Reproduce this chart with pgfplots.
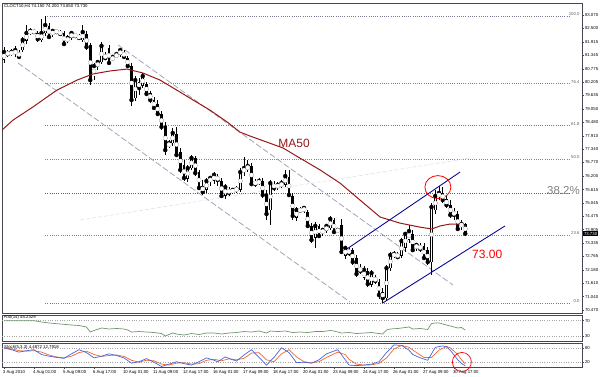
\documentclass[border=0pt]{standalone}
\usepackage{pgfplots}
\pgfplotsset{compat=1.18}
\usepackage{pgfplotstable}
\usepackage{fontspec}
\setmainfont{Liberation Sans}
\definecolor{mared}{RGB}{150,24,24}
\definecolor{chan}{RGB}{10,10,150}
\definecolor{dashc}{RGB}{160,165,185}
\definecolor{faint}{RGB}{215,228,238}
\definecolor{fib}{RGB}{120,120,145}
\definecolor{rsig}{RGB}{110,150,110}
\definecolor{stk}{RGB}{70,100,220}
\definecolor{std}{RGB}{240,100,50}
\definecolor{frm}{RGB}{70,70,80}

\pgfplotstableread{
i o h l c
0 81.15 81.70 81.02 81.49
1 81.45 81.57 81.28 81.40
2 81.40 81.62 81.32 81.49
3 81.40 81.75 81.28 81.57
4 81.49 81.57 81.19 81.28
5 81.57 82.13 81.49 82.00
6 81.96 82.64 81.83 82.30
7 82.30 82.51 82.22 82.39
8 82.39 82.47 82.26 82.34
9 82.30 82.39 81.92 82.04
10 82.00 82.90 81.92 82.30
11 82.30 83.03 82.17 82.64
12 82.60 82.73 82.04 82.13
13 82.22 82.47 82.13 82.39
14 82.39 82.47 82.26 82.34
15 82.34 82.43 82.17 82.26
16 82.30 82.39 81.75 81.83
17 81.96 82.22 81.87 82.09
18 82.09 82.39 82.00 82.30
19 82.22 82.30 82.09 82.17
20 82.17 82.26 82.00 82.09
21 82.00 82.64 81.92 82.34
22 82.26 82.39 81.57 81.70
23 81.79 81.87 80.08 80.29
24 80.46 81.02 80.29 80.89
25 80.85 81.15 80.72 81.06
26 81.06 81.92 80.98 81.75
27 81.36 81.49 81.15 81.23
28 81.66 81.79 80.93 81.02
29 81.15 81.36 81.11 81.28
30 81.28 81.49 81.23 81.40
31 81.36 81.66 81.28 81.57
32 81.49 81.57 81.23 81.28
33 81.23 81.32 80.81 80.89
34 80.89 81.02 79.18 79.44
35 79.52 80.46 79.40 80.29
36 80.21 80.38 79.65 79.95
37 80.04 80.59 79.95 80.46
38 80.12 80.21 79.61 79.70
39 79.74 79.82 79.31 79.44
40 79.44 79.57 79.01 79.10
41 79.27 79.44 78.76 78.84
42 78.84 78.97 78.16 78.29
43 78.33 78.50 77.09 77.30
44 77.47 77.73 77.39 77.60
45 77.60 78.24 77.47 78.03
46 77.99 78.29 77.00 77.09
47 77.22 77.39 76.32 76.45
48 76.66 76.88 75.98 76.11
49 76.07 76.66 75.94 76.53
50 76.53 77.09 76.45 76.96
51 76.96 77.05 76.19 76.32
52 76.36 76.45 75.60 75.68
53 75.77 76.02 75.38 75.51
54 75.60 76.11 75.47 75.98
55 75.94 76.19 75.77 76.11
56 75.98 76.36 75.85 76.24
57 76.15 76.28 75.77 76.02
58 75.98 76.11 75.25 75.34
59 75.34 75.85 75.21 75.72
60 75.60 75.72 75.34 75.47
61 75.51 75.68 75.42 75.60
62 75.60 75.77 75.47 75.64
63 75.60 76.53 75.51 76.36
64 76.36 77.00 76.19 76.53
65 76.49 76.88 76.36 76.62
66 76.62 76.75 75.77 75.85
67 75.94 76.07 75.72 75.85
68 75.89 76.11 75.81 75.98
69 75.98 76.11 75.25 75.38
70 75.42 75.60 74.31 74.57
71 74.74 76.02 74.10 75.89
72 75.85 75.98 75.55 75.68
73 75.72 75.94 75.60 75.81
74 75.77 76.02 75.68 75.89
75 75.81 76.45 75.72 76.19
76 76.15 76.45 75.30 75.38
77 75.34 75.47 74.31 74.49
78 74.40 74.87 74.27 74.74
79 74.74 74.87 74.61 74.72
80 74.70 74.91 74.61 74.83
81 74.66 74.74 73.97 74.06
82 74.06 74.19 73.33 73.46
83 73.55 74.23 73.12 74.06
84 74.06 74.14 73.55 73.63
85 73.76 73.97 73.63 73.89
86 73.84 74.14 73.76 74.06
87 73.97 74.49 73.89 74.36
88 74.31 74.40 73.72 73.80
89 73.84 73.97 73.76 73.89
90 74.10 74.36 72.86 72.95
91 72.78 73.20 72.65 73.12
92 73.03 73.16 72.78 72.90
93 73.03 73.12 72.39 72.52
94 72.69 72.82 71.88 72.01
95 72.26 72.43 72.01 72.14
96 71.84 72.35 71.75 72.18
97 72.14 72.26 71.45 71.58
98 71.54 72.18 71.45 72.05
99 71.84 71.96 71.58 71.71
100 71.67 71.79 70.94 71.11
101 71.24 71.41 70.77 70.98
102 70.98 72.39 70.86 72.26
103 72.26 72.95 72.14 72.82
104 72.78 72.99 72.69 72.86
105 72.86 72.95 72.65 72.73
106 72.78 73.55 72.69 73.42
107 73.12 73.80 72.95 73.72
108 73.46 74.10 73.33 73.84
109 73.72 73.89 72.95 73.03
110 73.12 73.33 72.99 73.25
111 73.20 73.33 72.95 73.08
112 73.20 73.33 72.61 72.69
113 73.03 73.16 72.39 72.52
114 72.52 75.04 71.96 74.87
115 74.74 75.60 74.57 75.34
116 75.30 75.77 75.17 75.47
117 75.47 75.72 75.04 75.17
118 75.21 75.34 74.83 74.95
119 74.95 75.17 74.40 74.53
120 74.66 74.83 74.31 74.53
121 74.57 74.70 73.84 73.93
122 74.06 74.31 73.89 74.14
123 74.15 74.20 73.65 73.73
}\candles

\pgfplotstableread{
i v
0 70
3 70
6 69.7
8 70
10 66.5
12 64
15 61.3
18 58.7
20 57.4
22 53.5
23 40.4
24 44.4
26 50.9
28 48.3
30 49.6
32 48.3
33 45.7
34 40.4
36 41.7
38 40.4
40 39.1
42 36.5
43 30
45 37.8
46 35.2
48 32.6
50 36.5
52 33.9
54 37.8
56 37.8
58 35.2
60 37.8
62 39.1
64 41.7
66 40.4
68 43
70 37.8
71 43
73 41.7
75 43
77 39.1
79 40.4
81 39.1
83 41.7
85 41.7
87 44.4
88 43
90 37.8
92 39.1
94 36.5
96 37.8
98 39.1
100 36.5
101 35.2
102 45.7
103 48.3
105 49.6
107 52.2
108 53.5
109 48.3
111 49.6
113 47
114 62.6
115 64
116 64
117 61.3
119 56.1
121 50.9
122 52.2
123 45.23
}\rsi

\pgfplotstableread{
i k
0 80
2 72
4 62
6 68
8 72
10 52
12 45
14 40
16 36
18 55
20 72
22 60
24 38
26 45
28 55
30 48
32 38
34 16
36 22
38 35
40 20
42 2
44 12
46 22
48 14
50 8
52 22
54 38
56 28
57 22
59 42
61 30
62 25
64 50
66 72
68 40
70 8
72 40
74 80
76 60
78 18
80 20
82 16
84 30
86 55
89 72
91 30
92 8
94 6
96 8
98 12
100 22
102 60
104 92
106 90
108 70
109 52
111 38
113 28
115 82
117 88
118 84
119 70
121 30
122 15
123 4.49
}\stochk

\pgfplotstableread{
i d
0 78
2 76
4 68
6 66
8 68
10 62
12 50
14 42
16 38
18 45
20 60
22 66
24 52
26 44
28 48
30 50
32 44
34 28
36 20
38 28
40 26
42 12
44 8
46 16
48 18
50 12
52 14
54 28
56 32
58 26
60 34
62 30
64 36
66 58
68 60
70 30
72 22
74 55
76 72
78 42
80 22
82 18
84 22
86 40
89 62
91 52
92 32
94 12
96 8
98 9
100 15
102 38
104 75
106 90
108 82
110 60
112 40
114 40
116 70
118 86
119 80
121 52
122 30
123 12.79
}\stochd

\begin{document}
\begin{tikzpicture}[font=\fontsize{4.3}{5}\selectfont]
\useasboundingbox (0,0) rectangle (600pt,376pt);
\pgfplotsset{mt/.style={
  scale only axis, width=580pt, xmin=-0.533, xmax=154.13,
  anchor=south west, clip=false,
  axis line style={frm, line width=0.6pt},
  ytick pos=right, yticklabel pos=right,
  tick align=outside, major tick length=2pt,
  tick style={frm, line width=0.4pt},
  yticklabel style={font=\fontsize{4.3}{5}\selectfont, inner sep=0.8pt, text=black},
  xticklabel style={font=\fontsize{4.3}{5}\selectfont, anchor=north west, xshift=-2pt, inner sep=0.8pt, text=black},
}}
% ---------------- main price panel
\begin{axis}[mt, at={(2pt,63pt)}, height=310pt, ymin=70.342, ymax=83.582,
  xtick=\empty,
  ytick={70.470,71.040,71.610,72.180,72.765,73.335,73.905,74.475,75.045,75.615,76.200,76.770,77.340,77.910,78.480,79.050,79.635,80.205,80.775,81.345,81.915,82.500,83.070},
  yticklabels={70.470,71.040,71.610,72.180,72.765,73.335,73.905,74.475,75.045,75.615,76.200,76.770,77.340,77.910,78.480,79.050,79.635,80.205,80.775,81.345,81.915,82.500,83.070}]
% fibonacci levels
\addplot[fib, line width=0.5pt, dash pattern=on 0.8pt off 1.4pt] coordinates {(11,83.03) (151.2,83.03)};
\addplot[fib!60!yellow!80!black, line width=0.5pt, dash pattern=on 0.8pt off 1.4pt] coordinates {(11,80.137) (151.2,80.137)};
\addplot[fib, line width=0.5pt, dash pattern=on 0.8pt off 1.4pt] coordinates {(11,78.347) (151.2,78.347)};
\addplot[fib!70!green, line width=0.5pt, dash pattern=on 0.8pt off 1.4pt] coordinates {(11,76.90) (151.2,76.90)};
\addplot[fib!80!black, line width=0.5pt, dash pattern=on 0.8pt off 1.4pt] coordinates {(11,75.453) (151.2,75.453)};
\addplot[fib!60!yellow!80!black, line width=0.5pt, dash pattern=on 0.8pt off 1.4pt] coordinates {(11,73.663) (151.2,73.663)};
\addplot[fib, line width=0.5pt, dash pattern=on 0.8pt off 1.4pt] coordinates {(11,70.77) (151.2,70.77)};
% trend lines
\addplot[faint, line width=0.6pt, dash pattern=on 4pt off 2pt] coordinates {(20.3,74.31) (124.3,76.96)};
\addplot[dashc, line width=0.8pt, dash pattern=on 6pt off 2.5pt] coordinates {(3.73,81.02) (92.27,70.81)};
\addplot[dashc, line width=0.8pt, dash pattern=on 6pt off 2.5pt] coordinates {(30.4,81.79) (119.7,71.54)};
% candles: wicks
\addplot[only marks, mark=none, black, error bars/.cd, y dir=both, y explicit, error mark=none,
  error bar style={line width=0.6pt, black}]
  table[x=i, y=c, y error plus expr={\thisrow{h}-\thisrow{c}}, y error minus expr={\thisrow{c}-\thisrow{l}}] {\candles};
% candles: bodies
\addplot[only marks, mark=none, black, error bars/.cd, y dir=both, y explicit, error mark=none,
  error bar style={line width=2.6pt, black, line cap=butt}]
  table[x=i, y expr={(\thisrow{o}+\thisrow{c})/2}, y error expr={abs(\thisrow{c}-\thisrow{o})/2+0.014}] {\candles};
\addplot[only marks, mark=none, white, error bars/.cd, y dir=both, y explicit, error mark=none,
  error bar style={line width=1.4pt, white, line cap=butt}]
  table[x=i, y expr={(\thisrow{o}+\thisrow{c})/2}, y error expr={max(abs(\thisrow{c}-\thisrow{o})/2-0.022,0)*(\thisrow{c}>\thisrow{o})}] {\candles};
% MA50
\addplot[mared, line width=1pt] coordinates {(-0.5,78.16) (2.4,78.58) (7.7,79.14) (14.1,79.86) (19.5,80.29) (23.7,80.55) (28.3,80.68) (32.8,80.76) (37.1,80.59) (41.6,80.29) (46.1,79.86) (50.4,79.44) (54.9,79.01) (59.5,78.50) (62.9,78.07) (65.6,77.90) (70.1,77.64) (74.4,77.39) (78.9,76.96) (84.3,76.45) (89.6,75.89) (94.9,75.17) (100.3,74.44) (105.6,74.18) (110.9,74.01) (114.1,73.93) (116.3,74.06) (118.9,74.14) (121.6,74.14) (122.9,74.06)};
% channel
\addplot[chan, line width=0.9pt] coordinates {(90,72.92) (121.6,76.36)};
\addplot[chan, line width=0.9pt] coordinates {(101,70.77) (133.6,74.06)};
% annotations
\draw[red, line width=0.8pt] (axis cs:115.7,75.72) ellipse [x radius=13pt, y radius=11.5pt];
\node[anchor=base west, inner sep=0pt, text=mared, font=\fontsize{12}{14}\selectfont] at (axis cs:73.1,77.39) {MA50};
\node[anchor=base west, inner sep=0pt, text=red, font=\fontsize{12}{14}\selectfont] at (axis cs:124.8,72.69) {73.00};
\node[anchor=base east, inner sep=0pt, text=gray, font=\fontsize{11.5}{13}\selectfont] at (axis cs:153.6,75.40) {38.2\%};
\node[anchor=south east, inner sep=0.3pt, text=fib!80!black] at (axis cs:153.6,83.03) {100.0};
\node[anchor=south east, inner sep=0.3pt, text=fib!80!black] at (axis cs:153.6,80.137) {76.4};
\node[anchor=south east, inner sep=0.3pt, text=fib!80!black] at (axis cs:153.6,78.347) {61.8};
\node[anchor=south east, inner sep=0.3pt, text=fib!80!black] at (axis cs:153.6,76.90) {50.0};
\node[anchor=south east, inner sep=0.3pt, text=fib!80!black] at (axis cs:153.6,73.663) {23.6};
\node[anchor=south east, inner sep=0.3pt, text=fib!80!black] at (axis cs:153.6,70.77) {0.0};
\node[anchor=west, fill=black, text=white, inner xsep=1.3pt, inner ysep=0.8pt, xshift=0.5pt] at (axis cs:154.13,73.73) {73.730};
\end{axis}
% ---------------- RSI panel
\begin{axis}[mt, at={(2pt,35pt)}, height=26pt, ymin=16.95, ymax=84.8,
  xtick=\empty, ytick={30,70}, yticklabels={30,70}]
\addplot[gray!70, line width=0.4pt, dash pattern=on 0.8pt off 1.6pt] coordinates {(-0.533,70) (154.13,70)};
\addplot[gray!70, line width=0.4pt, dash pattern=on 0.8pt off 1.6pt] coordinates {(-0.533,30) (154.13,30)};
\addplot[rsig, line width=0.7pt] table[x=i, y=v] {\rsi};
\end{axis}
% ---------------- Stochastic panel
\begin{axis}[mt, at={(2pt,9pt)}, height=24pt, ymin=0, ymax=100,
  ytick={20,80}, yticklabels={20,80},
  xtick pos=bottom, xtick={0,8,...,120},
  xticklabels={3 Aug 2010,4 Aug 01:00,5 Aug 09:00,6 Aug 17:00,10 Aug 01:00,11 Aug 09:00,12 Aug 17:00,16 Aug 01:00,17 Aug 09:00,18 Aug 17:00,20 Aug 01:00,23 Aug 09:00,24 Aug 17:00,26 Aug 01:00,27 Aug 09:00,30 Aug 17:00}]
\addplot[gray!70, line width=0.4pt, dash pattern=on 0.8pt off 1.6pt] coordinates {(-0.533,80) (154.13,80)};
\addplot[gray!70, line width=0.4pt, dash pattern=on 0.8pt off 1.6pt] coordinates {(-0.533,20) (154.13,20)};
\addplot[std, line width=0.7pt] table[x=i, y=d] {\stochd};
\addplot[stk, line width=0.7pt] table[x=i, y=k] {\stochk};
\draw[red, line width=0.7pt] (axis cs:122.1,21) circle [radius=9.5pt];
\end{axis}
% panel captions
\node[anchor=north west, inner sep=0pt] at (4pt,372pt) {CLOCT10,H4 74.150 74.200 73.650 73.730};
\node[anchor=west, inner sep=0pt] at (4pt,58.5pt) {RSI(14) 45.2329};
\node[anchor=west, inner sep=0pt] at (4pt,29pt) {Stoch(5,3,3) 4.4872 12.7918};
\end{tikzpicture}
\end{document}
